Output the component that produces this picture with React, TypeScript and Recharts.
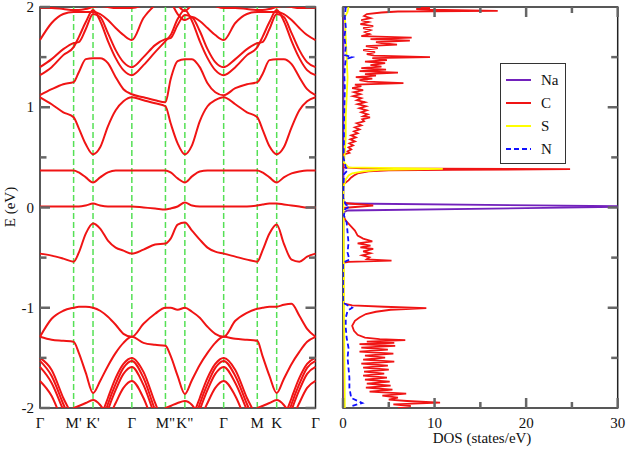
import React from "react"
import {
  LineChart,
  Line,
  XAxis,
  YAxis,
  ReferenceLine,
  ReferenceArea,
} from "recharts"

// ---- band structure ----
// k along Γ-M-K-Γ, three times (|ΓM| : |MK| : |KΓ| = 0.866 : 0.5 : 1)
const kPath = [
  0, 0.3, 0.6, 0.866, 1.0, 1.18, 1.366, 1.55, 1.75, 1.95, 2.15, 2.366,
  2.666, 2.966, 3.232, 3.366, 3.546, 3.732, 3.916, 4.116, 4.316, 4.516, 4.732,
  5.032, 5.332, 5.598, 5.732, 5.912, 6.098, 6.282, 6.482, 6.682, 6.882, 7.098,
]
const kTicks = [0, 0.866, 1.366, 2.366, 3.232, 3.732, 4.732, 5.598, 6.098, 7.098]
const kLabels = ["Γ", "M'", "K'", "Γ", 'M"', 'K"', "Γ", "M", "K", "Γ"]

const bandF0 = [
  0.01, 0.01, 0.01, 0.01, 0.01, 0.02, 0.04, 0.02, 0.01, 0.01, 0.01, 0.01,
  0.0, -0.01, -0.02, -0.01, 0.01, 0.05, 0.02, 0.01, 0.01, 0.01, 0.01,
  0.01, 0.01, 0.02, 0.03, 0.04, 0.04, 0.03, 0.02, 0.01, 0.0, 0.0,
]
const bandF1 = [
  0.37, 0.37, 0.37, 0.37, 0.35, 0.3, 0.25, 0.3, 0.35, 0.37, 0.37, 0.37,
  0.37, 0.37, 0.37, 0.35, 0.29, 0.25, 0.31, 0.36, 0.37, 0.37, 0.37,
  0.37, 0.37, 0.37, 0.35, 0.3, 0.25, 0.3, 0.34, 0.36, 0.37, 0.37,
]
const bandA = [
  1.1, 1.03, 0.95, 0.9, 0.79, 0.63, 0.53, 0.6, 0.81, 0.97, 1.06, 1.1,
  1.07, 1.04, 1.01, 0.84, 0.64, 0.53, 0.62, 0.86, 1.01, 1.07, 1.1,
  1.03, 0.95, 0.9, 0.78, 0.61, 0.53, 0.6, 0.8, 0.97, 1.06, 1.1,
]
const bandB = [
  1.12, 1.18, 1.23, 1.25, 1.35, 1.48, 1.49, 1.49, 1.44, 1.3, 1.18, 1.13,
  1.1, 1.07, 1.05, 1.28, 1.46, 1.48, 1.48, 1.4, 1.24, 1.15, 1.12,
  1.19, 1.23, 1.25, 1.33, 1.47, 1.48, 1.48, 1.43, 1.3, 1.18, 1.12,
]
const bandC1 = [
  1.32, 1.4, 1.52, 1.6, 1.7, 1.85, 1.97, 1.86, 1.66, 1.49, 1.37, 1.32,
  1.42, 1.55, 1.66, 1.72, 1.88, 1.97, 1.86, 1.66, 1.49, 1.37, 1.32,
  1.4, 1.52, 1.6, 1.7, 1.85, 1.97, 1.86, 1.66, 1.49, 1.37, 1.32,
]
const bandC2 = [
  1.4, 1.48, 1.58, 1.64, 1.65, 1.78, 1.93, 1.9, 1.74, 1.57, 1.45, 1.4,
  1.5, 1.62, 1.68, 1.69, 1.82, 1.92, 1.9, 1.76, 1.58, 1.45, 1.4,
  1.48, 1.58, 1.64, 1.65, 1.78, 1.93, 1.9, 1.74, 1.57, 1.45, 1.4,
]
const bandC3 = [
  1.67, 1.84, 1.93, 1.95, 1.95, 1.95, 1.95, 1.93, 1.87, 1.79, 1.72, 1.67,
  1.89, 2.02, 2.1, 2.05, 1.93, 1.87, 1.9, 1.86, 1.79, 1.72, 1.67,
  1.84, 1.93, 1.95, 1.95, 1.95, 1.95, 1.93, 1.87, 1.79, 1.72, 1.67,
]
const bandC4 = [
  1.99, 1.99, 1.98, 1.97, 1.97, 1.98, 2.0, 2.01, 2.0, 1.99, 1.99, 1.99,
  2.02, 2.08, 2.12, 2.1, 2.02, 1.96, 2.02, 2.06, 2.04, 2.01, 1.99,
  1.99, 1.98, 1.97, 1.97, 1.98, 2.0, 2.01, 2.0, 1.99, 1.99, 1.99,
]
const bandV0 = [
  -0.46, -0.48, -0.51, -0.54, -0.45, -0.26, -0.16, -0.21, -0.33, -0.4, -0.43, -0.46,
  -0.42, -0.37, -0.36, -0.31, -0.17, -0.15, -0.23, -0.32, -0.4, -0.44, -0.46,
  -0.49, -0.52, -0.54, -0.43, -0.26, -0.17, -0.36, -0.52, -0.54, -0.49, -0.46,
]
const bandV1 = [
  -1.29, -1.11, -1.03, -1.0, -0.99, -0.99, -1.0, -1.03, -1.09, -1.17, -1.26, -1.29,
  -1.16, -1.06, -1.0, -1.0, -1.02, -1.0, -1.04, -1.1, -1.19, -1.26, -1.29,
  -1.13, -1.05, -1.01, -1.0, -0.99, -0.99, -0.97, -0.96, -1.08, -1.21, -1.29,
]
const bandV2 = [
  -1.29, -1.32, -1.33, -1.34, -1.45, -1.65, -1.85, -1.73, -1.58, -1.45, -1.35, -1.29,
  -1.35, -1.37, -1.38, -1.48, -1.68, -1.86, -1.72, -1.57, -1.45, -1.35, -1.29,
  -1.31, -1.32, -1.33, -1.48, -1.68, -1.85, -1.71, -1.56, -1.44, -1.34, -1.29,
]
const bandL1 = [
  -1.5, -1.62, -1.9, -2.12, -2.3, -2.4, -2.4, -2.12, -1.9, -1.7, -1.56, -1.5,
  -1.64, -1.95, -2.2, -2.3, -2.4, -2.4, -2.12, -1.9, -1.7, -1.56, -1.5,
  -1.62, -1.9, -2.12, -2.3, -2.4, -2.4, -2.12, -1.9, -1.7, -1.56, -1.5,
]
const bandL2 = [
  -1.53, -1.68, -1.96, -2.2, -2.35, -2.4, -2.4, -2.2, -1.96, -1.76, -1.6, -1.53,
  -1.7, -2.02, -2.25, -2.35, -2.4, -2.4, -2.2, -1.96, -1.76, -1.6, -1.53,
  -1.68, -1.96, -2.2, -2.35, -2.4, -2.4, -2.2, -1.96, -1.76, -1.6, -1.53,
]
const bandL3 = [
  -1.59, -1.75, -2.02, -2.25, -2.4, -2.45, -2.45, -2.25, -2.02, -1.82, -1.66, -1.59,
  -1.77, -2.08, -2.3, -2.4, -2.45, -2.45, -2.25, -2.02, -1.82, -1.66, -1.59,
  -1.75, -2.02, -2.25, -2.4, -2.45, -2.45, -2.25, -2.02, -1.82, -1.66, -1.59,
]
const bandL4 = [
  -1.73, -1.88, -2.15, -2.35, -2.45, -2.5, -2.5, -2.35, -2.12, -1.95, -1.8, -1.73,
  -1.9, -2.2, -2.4, -2.45, -2.5, -2.5, -2.35, -2.12, -1.95, -1.8, -1.73,
  -1.88, -2.15, -2.35, -2.45, -2.5, -2.5, -2.35, -2.12, -1.95, -1.8, -1.73,
]
const bandL5 = [
  -2.5, -2.3, -2.1, -2.0, -1.98, -1.95, -1.92, -1.97, -2.1, -2.3, -2.45, -2.5,
  -2.3, -2.1, -2.0, -1.98, -1.95, -1.93, -1.97, -2.1, -2.3, -2.45, -2.5,
  -2.3, -2.1, -2.0, -1.98, -1.95, -1.92, -1.97, -2.1, -2.3, -2.45, -2.5,
]

const bands = [
  bandF0, bandF1, bandA, bandB, bandC1, bandC2, bandC3, bandC4,
  bandV0, bandV1, bandV2, bandL1, bandL2, bandL3, bandL4, bandL5,
]

// ---- partial DOS, [E (eV), states/eV] ----
const dosNa = [
  [2.0, 0.05], [0.06, 0.05], [0.04, 0.5], [0.01, 33], [-0.03, 0.5], [-0.05, 0.05], [-2.0, 0.05],
]
const dosC = [
  [2.0, 8.5], [1.99, 9.5], [1.98, 8.0], [1.97, 11.0], [1.962, 16.9], [1.955, 6.0], [1.945, 4.2],
  [1.93, 2.6], [1.91, 2.3], [1.89, 3.0], [1.87, 2.0], [1.85, 2.8], [1.83, 1.9], [1.81, 3.3],
  [1.79, 2.2], [1.77, 3.0], [1.75, 2.4], [1.73, 2.9], [1.71, 2.0], [1.695, 7.5], [1.68, 3.0],
  [1.665, 7.3], [1.65, 3.6], [1.64, 4.2], [1.625, 5.9], [1.61, 2.5], [1.59, 3.8], [1.57, 2.2],
  [1.55, 3.5], [1.53, 2.6], [1.515, 3.4], [1.5, 9.5], [1.49, 3.2], [1.47, 4.8], [1.455, 2.4],
  [1.44, 4.6], [1.42, 3.0], [1.405, 4.2], [1.39, 2.0], [1.375, 4.7], [1.36, 1.8], [1.345, 6.0],
  [1.33, 2.4], [1.315, 3.6], [1.3, 1.4], [1.285, 3.2], [1.27, 1.8], [1.255, 2.7], [1.24, 6.6],
  [1.225, 1.3], [1.21, 2.0], [1.19, 1.0], [1.17, 2.2], [1.15, 1.2], [1.13, 1.9], [1.11, 1.1],
  [1.09, 2.0], [1.07, 1.5], [1.05, 2.4], [1.03, 1.6], [1.01, 2.5], [0.99, 1.8], [0.97, 2.6],
  [0.95, 2.0], [0.93, 2.7], [0.91, 2.2], [0.9, 2.95], [0.88, 2.1], [0.86, 2.3], [0.84, 1.5],
  [0.82, 2.0], [0.8, 1.3], [0.78, 1.8], [0.76, 1.2], [0.74, 1.6], [0.72, 0.9], [0.7, 1.4],
  [0.68, 0.8], [0.66, 1.3], [0.64, 0.7], [0.62, 1.1], [0.6, 0.6], [0.58, 0.9], [0.56, 0.5],
  [0.545, 0.7], [0.53, 0.1], [0.52, 0], [0.4, 0], [0.39, 2.0], [0.382, 24.8], [0.375, 12.0],
  [0.37, 5.0], [0.36, 2.8], [0.34, 1.6], [0.32, 1.2], [0.3, 0.9], [0.27, 0.6], [0.25, 0.3],
  [0.23, 0], [0.045, 0], [0.02, 3.3], [-0.005, 0], [-0.08, 0], [-0.13, 0.3], [-0.18, 0.8],
  [-0.23, 1.3], [-0.28, 1.6], [-0.31, 2.2], [-0.337, 3.2], [-0.357, 1.6], [-0.38, 3.0],
  [-0.397, 1.9], [-0.413, 3.3], [-0.437, 2.2], [-0.457, 3.0], [-0.477, 2.1], [-0.497, 2.9],
  [-0.517, 2.6], [-0.53, 5.3], [-0.543, 0.6], [-0.553, 0], [-0.957, 0], [-0.977, 1.0],
  [-0.99, 4.5], [-1.003, 9.1], [-1.02, 5.2], [-1.04, 3.6], [-1.063, 2.5], [-1.097, 1.8],
  [-1.13, 1.3], [-1.18, 1.0], [-1.23, 1.2], [-1.27, 1.6], [-1.297, 2.4], [-1.313, 4.0],
  [-1.323, 6.8], [-1.337, 2.6], [-1.35, 5.6], [-1.363, 1.8], [-1.38, 5.7], [-1.397, 2.0],
  [-1.417, 4.9], [-1.437, 1.8], [-1.457, 5.5], [-1.477, 2.4], [-1.497, 4.6], [-1.517, 2.2],
  [-1.537, 5.6], [-1.557, 2.0], [-1.577, 4.9], [-1.597, 2.2], [-1.617, 5.0], [-1.637, 2.3],
  [-1.657, 4.5], [-1.677, 2.2], [-1.697, 4.8], [-1.717, 2.4], [-1.737, 5.1], [-1.757, 2.6],
  [-1.777, 5.2], [-1.797, 2.5], [-1.817, 5.4], [-1.837, 2.9], [-1.857, 6.9], [-1.877, 4.3],
  [-1.897, 6.0], [-1.917, 5.0], [-1.93, 7.0], [-1.947, 10.6], [-1.963, 5.5], [-1.98, 7.4],
  [-2.0, 6.0],
]
const dosS = [
  [2.0, 0.6], [1.95, 0.5], [1.9, 0.2], [1.7, 0.3], [1.5, 0.4], [1.3, 0.5], [1.1, 0.4], [0.9, 0.3],
  [0.7, 0.3], [0.55, 0.2], [0.45, 0.1], [0.4, 0.6], [0.385, 10.9], [0.375, 4.0], [0.36, 2.2],
  [0.34, 1.0], [0.32, 0.6], [0.28, 0.3], [0.2, 0.05], [0.0, 0.05], [-0.5, 0.1], [-1.0, 0.1],
  [-1.5, 0.15], [-2.0, 0.2],
]
const dosN = [
  [2.0, 0.3], [1.9, 0.2], [1.8, 0.3], [1.7, 0.15], [1.6, 0.3], [1.52, 0.2], [1.5, 1.0], [1.48, 0.3],
  [1.4, 0.2], [1.3, 0.15], [1.2, 0.2], [1.0, 0.15], [0.8, 0.1], [0.6, 0.1], [0.5, 0.05], [0.4, 0.3],
  [0.37, 0.5], [0.33, 0.1], [0.1, 0.0], [0.03, 0.3], [0.01, 0.7], [-0.02, 0.2], [-0.08, 0.1],
  [-0.15, 0.4], [-0.25, 0.5], [-0.35, 0.6], [-0.45, 0.5], [-0.52, 0.7], [-0.55, 0.0], [-0.95, 0.0],
  [-0.98, 0.6], [-1.0, 1.0], [-1.03, 0.5], [-1.1, 0.3], [-1.2, 0.3], [-1.3, 0.4], [-1.4, 0.6],
  [-1.5, 0.5], [-1.6, 0.6], [-1.7, 0.7], [-1.8, 0.7], [-1.9, 0.9], [-1.95, 2.1], [-1.98, 1.0],
  [-2.0, 0.8],
]

const energyTicks = [-2, -1.5, -1, -0.5, 0, 0.5, 1, 1.5, 2]
const dosTicks = [0, 5, 10, 15, 20, 25, 30]

const SERIF = "Liberation Serif, Times New Roman, serif"
const RED = "#f01414"
const GREEN = "#55e055"
const TICK = "#666"

const dosSeries = [
  { name: "Na", color: "#7221bc", pts: dosNa },
  { name: "C", color: RED, pts: dosC },
  { name: "S", color: "#ffff00", pts: dosS },
  { name: "N", color: "#1010ff", pts: dosN, dash: "5 3" },
]

// panel geometry
const BS_W = 320
const BS_L = 40
const BS_R = 315.5
const TOP = 7
const BOTTOM = 408
const H = 456
const DOS_X = 330
const DOS_W = 297
const DOS_L = 13
const DOS_R = 287.7

function bandYTick(props: any) {
  const { y, payload } = props
  const major = Number.isInteger(payload.value)
  const len = major ? 10 : 6.5
  return (
    <g>
      <line x1={BS_L} x2={BS_L + len} y1={y} y2={y} stroke={TICK} strokeWidth={2.5} />
      <line x1={BS_R - len} x2={BS_R} y1={y} y2={y} stroke={TICK} strokeWidth={2.5} />
      {major && (
        <text x={BS_L - 6} y={y} dy={5} textAnchor="end" fontSize={15} fontFamily={SERIF} fill="#111">
          {payload.value}
        </text>
      )}
    </g>
  )
}

function bandXTick(props: any) {
  const { x, index } = props
  return (
    <text x={x} y={BOTTOM + 20} textAnchor="middle" fontSize={15} fontFamily={SERIF} fill="#111">
      {kLabels[index]}
    </text>
  )
}

function dosXTick(props: any) {
  const { x, payload } = props
  const major = payload.value % 10 === 0
  const len = major ? 10 : 6
  return (
    <g>
      <line x1={x} x2={x} y1={BOTTOM} y2={BOTTOM - len} stroke={TICK} strokeWidth={2.5} />
      <line x1={x} x2={x} y1={TOP} y2={TOP + len} stroke={TICK} strokeWidth={2.5} />
      {major && (
        <text x={x} y={BOTTOM + 20} textAnchor="middle" fontSize={15} fontFamily={SERIF} fill="#111">
          {payload.value}
        </text>
      )}
    </g>
  )
}

function dosYTick(props: any) {
  const { y, payload } = props
  if (Math.abs(payload.value) === 2) return <g />
  const len = Number.isInteger(payload.value) ? 10 : 6.5
  return <line x1={DOS_R - len} x2={DOS_R} y1={y} y2={y} stroke={TICK} strokeWidth={2.5} />
}

export default function App() {
  const bandData = kPath.map((k, i) => {
    const row: Record<string, number> = { k }
    bands.forEach((b, j) => {
      row["b" + j] = b[i]
    })
    return row
  })

  return (
    <div style={{ position: "absolute", left: 0, top: 0, width: 627, height: H, background: "#fff" }}>
      <div style={{ position: "absolute", left: 0, top: 0 }}>
        <LineChart
          width={BS_W}
          height={H}
          data={bandData}
          margin={{ top: TOP, right: BS_W - BS_R, bottom: 0, left: 0 }}
        >
          <XAxis
            dataKey="k"
            type="number"
            domain={[0, kTicks[kTicks.length - 1]]}
            ticks={kTicks}
            interval={0}
            height={H - BOTTOM}
            axisLine={false}
            tickLine={false}
            tick={bandXTick}
          />
          <YAxis
            type="number"
            domain={[-2, 2]}
            allowDataOverflow
            ticks={energyTicks}
            interval={0}
            width={BS_L}
            axisLine={false}
            tickLine={false}
            tick={bandYTick}
          />
          {kTicks.slice(1, -1).map((k, i) => (
            <ReferenceLine key={i} x={k} stroke={GREEN} strokeWidth={1.5} strokeDasharray="6 3" />
          ))}
          {bands.map((_, j) => (
            <Line
              key={j}
              dataKey={"b" + j}
              type="monotone"
              stroke={RED}
              strokeWidth={2}
              dot={false}
              isAnimationActive={false}
            />
          ))}
          <ReferenceArea
            x1={0}
            x2={kTicks[kTicks.length - 1]}
            y1={-2}
            y2={2}
            fill="none"
            fillOpacity={0}
            stroke="#222"
            strokeWidth={1.5}
          />
        </LineChart>
      </div>

      <div style={{ position: "absolute", left: DOS_X, top: 0 }}>
        <LineChart
          layout="vertical"
          width={DOS_W}
          height={H}
          margin={{ top: TOP, right: DOS_W - DOS_R, bottom: 0, left: 0 }}
        >
          <XAxis
            type="number"
            domain={[0, 30]}
            allowDataOverflow
            ticks={dosTicks}
            interval={0}
            height={H - BOTTOM}
            axisLine={false}
            tickLine={false}
            tick={dosXTick}
          />
          <YAxis
            type="number"
            dataKey="e"
            domain={[-2, 2]}
            reversed
            allowDataOverflow
            ticks={energyTicks}
            interval={0}
            width={DOS_L}
            axisLine={false}
            tickLine={false}
            tick={dosYTick}
          />
          <ReferenceArea
            x1={0}
            x2={30}
            y1={-2}
            y2={2}
            fill="none"
            fillOpacity={0}
            stroke="#222"
            strokeWidth={1.5}
          />
          {dosSeries.map((s) => (
            <Line
              key={s.name}
              name={s.name}
              data={s.pts.map(([e, v]) => ({ e, v }))}
              dataKey="v"
              type="linear"
              stroke={s.color}
              strokeWidth={1.8}
              strokeDasharray={s.dash}
              dot={false}
              isAnimationActive={false}
            />
          ))}
        </LineChart>
      </div>

      {/* legend box */}
      <div
        style={{
          position: "absolute",
          left: 500,
          top: 63,
          width: 66,
          height: 101,
          boxSizing: "border-box",
          border: "1.5px solid #333",
          background: "#fff",
          fontFamily: SERIF,
          fontSize: 15,
        }}
      >
        {dosSeries.map((s, i) => (
          <div
            key={s.name}
            style={{ position: "absolute", left: 0, top: 7 + i * 23, height: 18, display: "flex", alignItems: "center" }}
          >
            <svg width={36} height={18} style={{ display: "block" }}>
              <line x1={5} x2={30} y1={9} y2={9} stroke={s.color} strokeWidth={2} strokeDasharray={s.dash} />
            </svg>
            <span style={{ marginLeft: 4, color: "#111" }}>{s.name}</span>
          </div>
        ))}
      </div>

      {/* axis titles */}
      <div
        style={{
          position: "absolute",
          left: 10,
          top: 207,
          transform: "translate(-50%, -50%) rotate(-90deg)",
          fontFamily: SERIF,
          fontSize: 15,
          whiteSpace: "nowrap",
          color: "#111",
        }}
      >
        E (eV)
      </div>
      <div
        style={{
          position: "absolute",
          left: 482,
          top: 438,
          transform: "translate(-50%, -50%)",
          fontFamily: SERIF,
          fontSize: 15,
          whiteSpace: "nowrap",
          color: "#111",
        }}
      >
        DOS (states/eV)
      </div>
    </div>
  )
}
